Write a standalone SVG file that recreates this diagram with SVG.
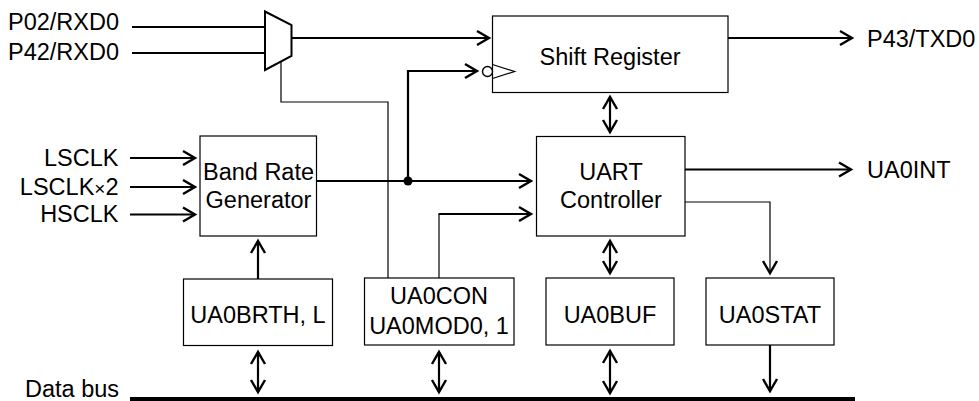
<svg xmlns="http://www.w3.org/2000/svg" width="979" height="401" viewBox="0 0 979 401">
<style>
text{font-family:"Liberation Sans",Arial,sans-serif;font-size:23.5px;fill:#000}
.m{text-anchor:middle}
.e{text-anchor:end}
.box{fill:#fff;stroke:#000;stroke-width:1.2}
.w{fill:none;stroke:#000;stroke-width:2.2}
.t{fill:none;stroke:#000;stroke-width:1.2}
.a{marker-end:url(#ah)}
.d{marker-start:url(#ah);marker-end:url(#ah)}
</style>
<defs>
<marker id="ah" markerUnits="userSpaceOnUse" markerWidth="20" markerHeight="20" viewBox="-14 -10 16 20" refX="0" refY="0" orient="auto-start-reverse">
<path d="M-12,-7 L0,0 L-12,7" fill="none" stroke="#000" stroke-width="2.4"/>
</marker>
</defs>
<rect width="979" height="401" fill="#fff"/>
<g id="connectors">
<line class="w" x1="132" y1="27" x2="265" y2="27"/>
<line class="w" x1="132" y1="53" x2="265" y2="53"/>
<line class="w a" x1="292" y1="38" x2="489" y2="38"/>
<polyline class="t" points="281,60 281,102 388,102 388,278"/>
<polyline class="w a" points="408,181 408,71 477,71"/>
<line class="w a" x1="317" y1="181" x2="531" y2="181"/>
<circle cx="408" cy="181" r="4.5" fill="#000"/>
<line class="t" x1="439" y1="278" x2="439" y2="214"/>
<line class="w a" x1="438.5" y1="214" x2="531" y2="214"/>
<line class="w a" x1="728" y1="38" x2="852" y2="38"/>
<line class="w a" x1="685" y1="169.5" x2="851" y2="169.5"/>
<polyline class="t a" points="685,202 770,202 770,273"/>
<line class="w d" x1="610" y1="97" x2="610" y2="132"/>
<line class="w d" x1="610" y1="241" x2="610" y2="273"/>
<line class="w a" x1="130" y1="158" x2="195" y2="158"/>
<line class="w a" x1="130" y1="187" x2="195" y2="187"/>
<line class="w a" x1="130" y1="214.5" x2="195" y2="214.5"/>
<line class="w a" x1="258" y1="279" x2="258" y2="241"/>
<line class="w d" x1="258" y1="352" x2="258" y2="392"/>
<line class="w d" x1="439" y1="352" x2="439" y2="392"/>
<line class="w d" x1="610" y1="351" x2="610" y2="393"/>
<line class="w a" x1="770" y1="345" x2="770" y2="391"/>
</g>
<g id="mux">
<polygon points="265,11.5 291.5,25 291.5,56 265,70" fill="#fff" stroke="#000" stroke-width="2"/>
</g>
<g id="shift-register">
<rect class="box" x="492.5" y="16" width="235.5" height="76.5"/>
<circle cx="487.5" cy="71.5" r="5" fill="#fff" stroke="#000" stroke-width="1.4"/>
<polyline points="492.5,64.5 514.5,71.5 492.5,78.5" fill="none" stroke="#000" stroke-width="1.3"/>
<text class="m" x="610" y="64.5">Shift Register</text>
</g>
<g id="band-rate-generator">
<rect class="box" x="200" y="136" width="116.5" height="100"/>
<text class="m" x="258.5" y="180">Band Rate</text>
<text class="m" x="258.5" y="208">Generator</text>
</g>
<g id="uart-controller">
<rect class="box" x="536.5" y="136.5" width="148.5" height="99.5"/>
<text class="m" x="611" y="180">UART</text>
<text class="m" x="611" y="208">Controller</text>
</g>
<g id="ua0brth">
<rect class="box" x="183.5" y="279" width="149" height="66.5"/>
<text class="m" x="258" y="322.5">UA0BRTH, L</text>
</g>
<g id="ua0con">
<rect class="box" x="364.5" y="278" width="149.5" height="67"/>
<text class="m" x="439" y="303.5">UA0CON</text>
<text class="m" x="439" y="334">UA0MOD0, 1</text>
</g>
<g id="ua0buf">
<rect class="box" x="546" y="278" width="128" height="67"/>
<text class="m" x="610" y="322.5">UA0BUF</text>
</g>
<g id="ua0stat">
<rect class="box" x="706" y="278" width="128" height="67"/>
<text class="m" x="770" y="322.5">UA0STAT</text>
</g>
<g id="data-bus">
<line x1="130" y1="399" x2="855" y2="399" stroke="#000" stroke-width="4"/>
<text x="25" y="397">Data bus</text>
</g>
<g id="signals">
<text x="8" y="30">P02/RXD0</text>
<text x="8" y="60">P42/RXD0</text>
<text x="867" y="46.5">P43/TXD0</text>
<text x="867" y="177.5">UA0INT</text>
<text class="e" x="118.5" y="166">LSCLK</text>
<text class="e" x="118.5" y="195">LSCLK<tspan font-size="19">×</tspan>2</text>
<text class="e" x="118.5" y="222">HSCLK</text>
</g>
</svg>
